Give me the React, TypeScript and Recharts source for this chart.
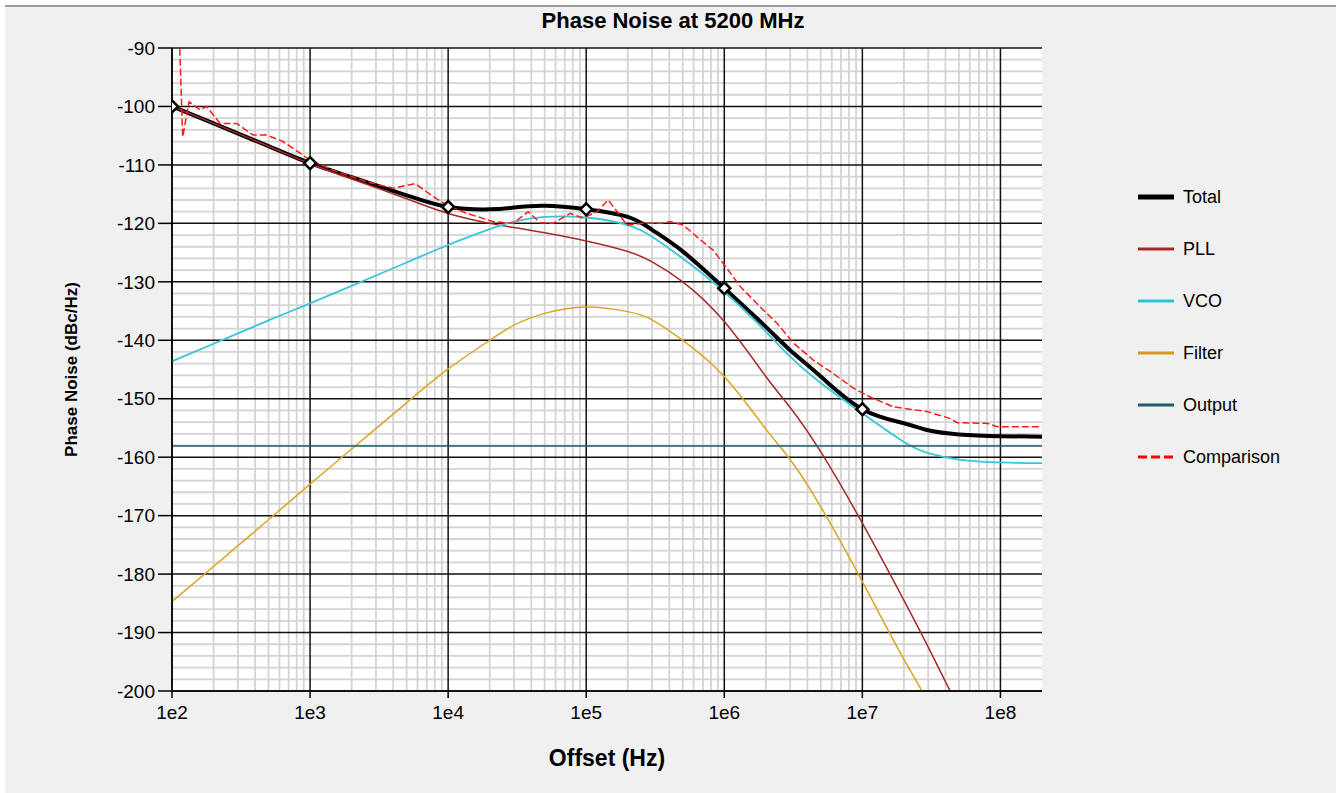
import React from "react";
import { LineChart, Line, XAxis, YAxis, ReferenceLine, CartesianGrid } from "recharts";

const FONT = '"Liberation Sans", Arial, Helvetica, sans-serif';

// offsets (Hz) where the model curves were read
const offsets = [
  1e2, 2e2, 5e2, 1e3, 2e3, 5e3, 1e4, 2e4, 3e4, 5e4, 1e5, 2e5, 3e5, 5e5,
  1e6, 2e6, 3e6, 5e6, 1e7, 2e7, 3e7, 5e7, 1e8, 2e8,
];

// dBc/Hz
const totalNoise = [
  -100, -102.9, -106.8, -109.7, -112.1, -115.2, -117.2, -117.6, -117.3, -117.0, -117.6, -118.9, -121.1, -124.8,
  -131.1, -137.7, -141.7, -146.2, -151.8, -154.2, -155.4, -156.1, -156.4, -156.5,
];
const pllNoise = [
  -100, -102.9, -106.8, -109.8, -112.4, -115.8, -118.3, -120.0, -120.7, -121.6, -123.0, -124.8, -126.6, -130.0,
  -136.8, -146.2, -151.5, -159.1, -171.3, -184.5, -192.5, -203, -217, -231,
];
const vcoNoise = [
  -143.6, -140.6, -136.6, -133.7, -130.7, -126.7, -123.7, -121.0, -119.7, -118.9, -119.0, -120.3, -122.3, -126.0,
  -131.7, -138.5, -142.8, -147.3, -152.5, -157.4, -159.3, -160.4, -160.9, -161.0,
];
const filterNoise = [
  -184.7, -178.7, -170.7, -164.6, -158.6, -150.7, -144.9, -140.0, -137.4, -135.4, -134.3, -135.1, -136.5, -140.0,
  -146.2, -155.2, -160.4, -168.5, -181.3, -194.6, -202, -214, -232, -250,
];

const outputOffsets = [1e2, 2e8];
const outputNoise = [-158.1, -158.1];

const comparisonOffsets = [
  112, 119.5, 133, 160, 178, 223, 294, 386, 485, 636, 847, 1000, 1470, 2580, 3990, 5770, 7790, 9790,
  1.37e4, 2.12e4, 2.96e4, 3.8e4, 4.64e4, 5.77e4, 7.66e4, 9.5e4, 1.2e5, 1.44e5, 1.71e5, 1.97e5, 2.58e5,
  3.43e5, 4.06e5, 5.05e5, 6.7e5, 8.32e5, 1.045e6, 1.305e6, 1.82e6, 2.41e6, 3.18e6, 4.42e6, 6.17e6,
  8.61e6, 1.14e7, 1.68e7, 2.94e7, 4.34e7, 4.86e7, 8.0e7, 9.47e7, 2e8,
];
const comparisonNoise = [
  -85, -105.2, -99.2, -100.6, -100, -102.9, -102.9, -104.9, -104.9, -106, -108, -109.2, -110.9, -112.9, -114, -113.2, -115.4, -116.9,
  -118.3, -119.7, -120, -118, -119.9, -120, -118.3, -119.1, -118, -116, -118.3, -120.3, -120,
  -120, -119.7, -120.3, -122.8, -124.6, -127.7, -130.8, -134.3, -137.1, -140.5, -143.4, -145.7,
  -148.2, -149.7, -151.4, -152.2, -153.4, -154.1, -154.2, -154.8, -154.8,
];

const markerOffsets = [1e2, 1e3, 1e4, 1e5, 1e6, 1e7];

const decadeTicks = [1e2, 1e3, 1e4, 1e5, 1e6, 1e7, 1e8];
const yTicks = [-200, -190, -180, -170, -160, -150, -140, -130, -120, -110, -100, -90];

const minorX: number[] = [];
decadeTicks.slice(0, 6).forEach((d) => {
  for (let m = 2; m <= 9; m++) minorX.push(d * m);
});
const minorY: number[] = [];
for (let v = -198; v < -90; v += 2) if (v % 10 !== 0) minorY.push(v);

const modelData = offsets.map((f, i) => ({
  f,
  total: totalNoise[i],
  pll: pllNoise[i],
  vco: vcoNoise[i],
  filter: filterNoise[i],
}));
const outputData = outputOffsets.map((f, i) => ({ f, output: outputNoise[i] }));
const comparisonData = comparisonOffsets.map((f, i) => ({ f, comparison: comparisonNoise[i] }));
const markerData = markerOffsets.map((f) => ({ f, total: totalNoise[offsets.indexOf(f)] }));

const legendItems = [
  { name: "Total", color: "#000000", width: 5, dash: undefined },
  { name: "PLL", color: "#a52a2a", width: 3, dash: undefined },
  { name: "VCO", color: "#2ec4d8", width: 3, dash: undefined },
  { name: "Filter", color: "#d89a1c", width: 3, dash: undefined },
  { name: "Output", color: "#1f5c6c", width: 3, dash: undefined },
  { name: "Comparison", color: "#ff0000", width: 3, dash: "9 4" },
];

const Diamond = (props: any) => {
  const { cx, cy, index } = props;
  const r = 6;
  if (cx == null || cy == null) return <g key={index} />;
  return (
    <path
      key={index}
      d={`M${cx},${cy - r}L${cx + r},${cy}L${cx},${cy + r}L${cx - r},${cy}Z`}
      fill="#ffffff"
      stroke="#000000"
      strokeWidth={2.5}
    />
  );
};

const tickStyle = { fill: "#000", fontSize: 19, fontFamily: FONT };

export default function App() {
  return (
    <div style={{ position: "absolute", left: 0, top: 0, width: 1336, height: 793, background: "#ffffff", overflow: "hidden" }}>
      <div
        style={{
          position: "absolute",
          left: 5,
          top: 5,
          width: 1331,
          height: 788,
          background: "#f0f0f0",
          borderTop: "2px solid #a0a0a0",
          boxSizing: "border-box",
        }}
      />
      <div
        style={{
          position: "absolute",
          left: 0,
          width: 1346,
          top: 10,
          textAlign: "center",
          fontFamily: FONT,
          fontWeight: "bold",
          fontSize: 22,
          lineHeight: "22px",
          color: "#000",
        }}
      >
        Phase Noise at 5200 MHz
      </div>

      <div style={{ position: "absolute", left: 0, top: 0 }}>
        <LineChart width={1336} height={793} margin={{ top: 48, right: 294, bottom: 0, left: 0 }}>
          <CartesianGrid fill="#ffffff" horizontal={false} vertical={false} stroke="none" />
          {minorX.map((v) => (
            <ReferenceLine key={`mx${v}`} x={v} stroke="#d4d4d4" strokeWidth={1.8} zIndex={-60} />
          ))}
          {minorY.map((v) => (
            <ReferenceLine key={`my${v}`} y={v} stroke="#d4d4d4" strokeWidth={1.8} zIndex={-60} />
          ))}
          {decadeTicks.map((v) => (
            <ReferenceLine key={`MX${v}`} x={v} stroke="#111" strokeWidth={1.5} zIndex={-50} />
          ))}
          {yTicks.map((v) => (
            <ReferenceLine key={`MY${v}`} y={v} stroke="#111" strokeWidth={1.5} zIndex={-50} />
          ))}
          <XAxis
            dataKey="f"
            type="number"
            scale="log"
            domain={[100, 2e8]}
            allowDataOverflow
            ticks={decadeTicks}
            interval={0}
            tickFormatter={(v: number) => `1e${Math.round(Math.log10(v))}`}
            height={102}
            tickSize={7}
            tickMargin={8}
            stroke="#000"
            strokeWidth={1.5}
            tick={tickStyle}
            label={(p: any) => {
              const vb = p.viewBox;
              return (
                <text
                  x={vb.x + vb.width / 2}
                  y={vb.y + 75}
                  textAnchor="middle"
                  fontFamily={FONT}
                  fontWeight="bold"
                  fontSize={23}
                  fill="#000"
                >
                  Offset (Hz)
                </text>
              );
            }}
          />
          <YAxis
            type="number"
            domain={[-200, -90]}
            allowDataOverflow
            ticks={yTicks}
            interval={0}
            width={172}
            tickSize={14}
            tickMargin={3}
            stroke="#000"
            strokeWidth={1.5}
            tick={tickStyle}
            label={(p: any) => {
              const vb = p.viewBox;
              const x = vb.x + 71;
              const y = vb.y + vb.height / 2;
              return (
                <text
                  x={x}
                  y={y}
                  transform={`rotate(-90, ${x}, ${y})`}
                  textAnchor="middle"
                  dominantBaseline="central"
                  fontFamily={FONT}
                  fontWeight="bold"
                  fontSize={17}
                  fill="#000"
                >
                  Phase Noise (dBc/Hz)
                </text>
              );
            }}
          />
          <Line data={modelData} dataKey="total" type="natural" stroke="#000" strokeWidth={4} dot={false} isAnimationActive={false} />
          <Line data={modelData} dataKey="pll" type="natural" stroke="#a52a2a" strokeWidth={1.5} dot={false} isAnimationActive={false} />
          <Line data={modelData} dataKey="vco" type="natural" stroke="#38c6d8" strokeWidth={1.8} dot={false} isAnimationActive={false} />
          <Line data={modelData} dataKey="filter" type="natural" stroke="#daa520" strokeWidth={1.5} dot={false} isAnimationActive={false} />
          <Line data={outputData} dataKey="output" type="linear" stroke="#1f5c6c" strokeWidth={1.5} dot={false} isAnimationActive={false} />
          <Line
            data={comparisonData}
            dataKey="comparison"
            type="linear"
            stroke="#ff1a1a"
            strokeWidth={1.5}
            strokeDasharray="7 3"
            dot={false}
            isAnimationActive={false}
          />
          <Line data={markerData} dataKey="total" stroke="none" dot={Diamond} activeDot={false} isAnimationActive={false} />
        </LineChart>
      </div>

      <div style={{ position: "absolute", left: 1138, top: 184, fontFamily: FONT, fontSize: 18, color: "#000" }}>
        {legendItems.map((item) => (
          <div key={item.name} style={{ display: "flex", alignItems: "center", height: 26, marginBottom: 26 }}>
            <svg width={36} height={8} style={{ marginRight: 9 }}>
              <line x1={0} y1={4} x2={36} y2={4} stroke={item.color} strokeWidth={item.width} strokeDasharray={item.dash} />
            </svg>
            <span>{item.name}</span>
          </div>
        ))}
      </div>
    </div>
  );
}
